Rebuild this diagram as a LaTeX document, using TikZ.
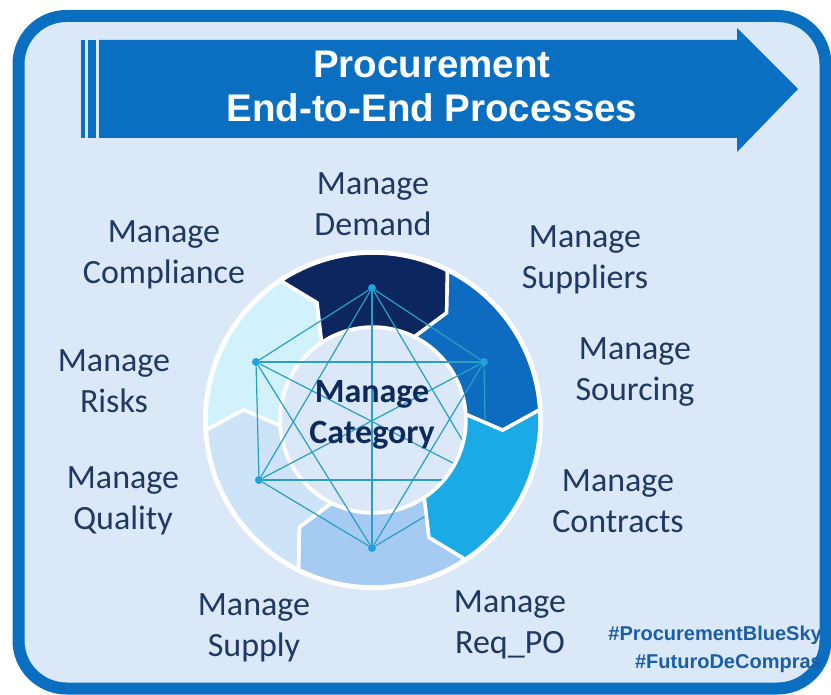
\documentclass[tikz,border=0pt]{standalone}
\usepackage{fontspec}
\setmainfont{Carlito}
\newfontfamily\headfont{Liberation Sans}
\usetikzlibrary{calc}

\definecolor{bgc}{HTML}{DAE8F7}
\definecolor{framec}{HTML}{0A6FC0}
\definecolor{txtc}{HTML}{1F3864}
\definecolor{catc}{HTML}{0E2A5C}
\definecolor{tagc}{HTML}{1B5EA6}
\definecolor{segnavy}{HTML}{0C2660}
\definecolor{segblue}{HTML}{0E6CC0}
\definecolor{segcyan}{HTML}{1AAAE6}
\definecolor{segsky}{HTML}{A6CBF2}
\definecolor{segpale}{HTML}{CCE3F8}
\definecolor{segice}{HTML}{D2F2FB}
\definecolor{netc}{HTML}{2A9EC6}
\definecolor{dotc}{HTML}{1FA3DB}

% ring geometry: outer, inner and middle radius, chevron offset (deg)
\def\Ro{167}
\def\Ri{93}
\def\Rm{130}
\def\dl{8}

% one chevron segment of the ring, starting at angle #1 and spanning 60 deg
\newcommand\ringseg[2]{%
  \filldraw[segline, fill=#2]
    (#1:\Ro) arc[start angle=#1, end angle=#1+60, radius=\Ro]
    -- ({#1+60+\dl}:\Rm) -- ({#1+60}:\Ri)
    arc[start angle=#1+60, end angle=#1, radius=\Ri]
    -- ({#1+\dl}:\Rm) -- cycle;}

\newcommand\twolines[2]{\strut #1\\\strut #2}

\begin{document}
\begin{tikzpicture}[x=1pt, y=-1pt,
  segline/.style={draw=white, line width=3.5pt, line join=miter},
  netline/.style={draw=netc, line width=1.2pt},
  netdot/.style={circle, fill=dotc, inner sep=0pt, minimum size=8pt},
  lbl/.style={font=\fontsize{34}{41}\selectfont, text=txtc, align=center, inner sep=0pt},
  catlbl/.style={font=\bfseries\fontsize{34}{41}\selectfont, text=catc, align=center, inner sep=0pt},
  titlelbl/.style={font=\headfont\bfseries\fontsize{38.5}{44}\selectfont, text=white, align=center, inner sep=0pt},
  taglbl/.style={font=\headfont\bfseries\fontsize{20}{28}\selectfont, text=tagc, align=right, inner sep=0pt}]

\fill[white] (0,0) rectangle (831,695);
\useasboundingbox (0,0) rectangle (831,695);

% outer frame
\draw[framec, line width=12pt, fill=bgc, rounded corners=48pt] (18.5,16) rectangle (825.5,688.5);

% title banner arrow
\fill[framec] (80.5,40) rectangle (84.5,138);
\fill[framec] (87.5,40) rectangle (95.5,138);
\fill[framec] (99,40) -- (737,40) -- (737,28) -- (798,89) -- (737,152) -- (737,138) -- (99,138) -- cycle;
\node[titlelbl] (title) at (432,90.5) {\twolines{Procurement}{End-to-End Processes}};

% ring of process segments
\begin{scope}[shift={(373,420)}]
  \fill[white] (0,0) circle[radius=170];
  \fill[bgc] (0,0) circle[radius=91];
  \ringseg{-183.5}{segice}
  \ringseg{-123.5}{segnavy}
  \ringseg{-63.5}{segblue}
  \ringseg{56.5}{segsky}
  \ringseg{116.5}{segpale}
\end{scope}

% network linking the six processes
\node[netdot] (nT) at (372,288) {};
\node[netdot] (nUR) at (484,362) {};
\node[netdot] (nLR) at (486,480) {};
\node[netdot] (nB) at (372,548) {};
\node[netdot] (nLL) at (259,480) {};
\node[netdot] (nUL) at (256,362) {};
\foreach \a/\b in {nT/nUR, nT/nLR, nT/nB, nT/nLL, nT/nUL,
                   nUR/nLR, nUR/nB, nUR/nLL, nUR/nUL,
                   nLR/nB, nLR/nLL, nLR/nUL,
                   nB/nLL, nB/nUL, nLL/nUL}
  \draw[netline] (\a) -- (\b);

\begin{scope}[shift={(373,420)}]
  \ringseg{-3.5}{segcyan}
\end{scope}

% centre and process labels
\node[catlbl] (cat) at (372,415) {\twolines{Manage}{Category}};
\node[lbl] (demand) at (373,207) {\twolines{Manage}{Demand}};
\node[lbl] (suppliers) at (585,260) {\twolines{Manage}{Suppliers}};
\node[lbl] (compliance) at (164,255) {\twolines{Manage}{Compliance}};
\node[lbl] (sourcing) at (635,372) {\twolines{Manage}{Sourcing}};
\node[lbl] (risks) at (114,384) {\twolines{Manage}{Risks}};
\node[lbl] (contracts) at (618,504) {\twolines{Manage}{Contracts}};
\node[lbl] (quality) at (123,501) {\twolines{Manage}{Quality}};
\node[lbl] (supply) at (254,628) {\twolines{Manage}{Supply}};
\node[lbl] (reqpo) at (510,625) {\twolines{Manage}{Req\_PO}};

% hashtags
\node[taglbl, anchor=east] (tags) at (822,648.4) {\strut\#ProcurementBlueSky\\\strut\#FuturoDeCompras};
\end{tikzpicture}
\end{document}
